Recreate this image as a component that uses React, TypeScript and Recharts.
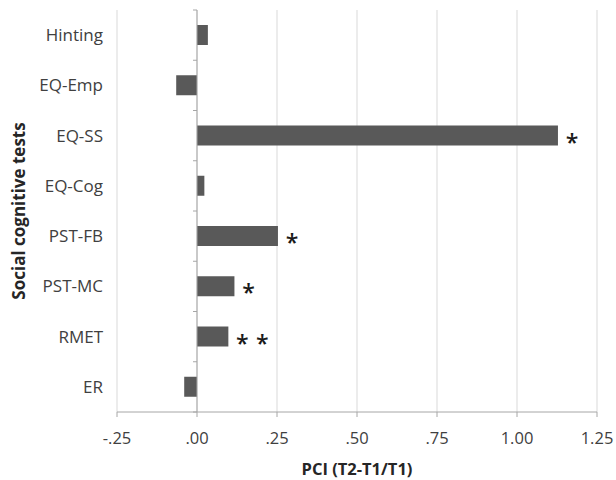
import { BarChart, Bar, XAxis, YAxis, CartesianGrid, ReferenceLine, LabelList, Label } from 'recharts'

const categories = ['Hinting', 'EQ-Emp', 'EQ-SS', 'EQ-Cog', 'PST-FB', 'PST-MC', 'RMET', 'ER']
const pciValues = [0.034, -0.065, 1.128, 0.023, 0.253, 0.117, 0.098, -0.04]
const significance = ['', '', '*', '', '*', '*', '**', '']
const xTicks = [-0.25, 0, 0.25, 0.5, 0.75, 1, 1.25]
const xTickLabels = ['-.25', '.00', '.25', '.50', '.75', '1.00', '1.25']

const FONT = '"Open Sans", sans-serif'
const BAR_COLOR = '#595959'
const GRID_COLOR = '#d9d9d9'
const AXIS_COLOR = '#a6a6a6'
const TEXT_COLOR = '#404040'
const TITLE_COLOR = '#262626'

const chartData = categories.map((name, i) => ({
  name,
  value: pciValues[i],
  sig: significance[i],
}))

// vertical axis line drawn at x = 0, with small ticks between categories
const ZeroAxis = (props: any) => {
  const { x1, y1, y2 } = props
  const top = Math.min(y1, y2)
  const bottom = Math.max(y1, y2)
  const step = (bottom - top) / categories.length
  return (
    <g>
      <line x1={x1} y1={top} x2={x1} y2={bottom} stroke={AXIS_COLOR} strokeWidth={1} />
      {Array.from({ length: categories.length + 1 }, (_, i) => (
        <line
          key={i}
          x1={x1 - 4}
          x2={x1}
          y1={top + i * step}
          y2={top + i * step}
          stroke={AXIS_COLOR}
          strokeWidth={1}
        />
      ))}
    </g>
  )
}

const Stars = (props: any) => {
  const { x, y, width, height, value } = props
  if (!value) return null
  const end = x + width
  const cy = y + height / 2
  return (
    <g>
      {value.split('').map((s: string, i: number) => (
        <text
          key={i}
          x={end + 14 + i * 20}
          y={cy + 15}
          textAnchor="middle"
          fontSize={23}
          fontWeight={600}
          fontFamily={FONT}
          fill="#1a1a1a"
        >
          {s}
        </text>
      ))}
    </g>
  )
}

const YTitle = ({ viewBox }: any) => {
  const cx = viewBox.x + 18
  const cy = viewBox.y + viewBox.height / 2
  return (
    <text
      x={cx}
      y={cy}
      transform={`rotate(-90 ${cx} ${cy})`}
      textAnchor="middle"
      dominantBaseline="central"
      fontSize={17}
      fontWeight={700}
      fontFamily={FONT}
      fill={TITLE_COLOR}
    >
      Social cognitive tests
    </text>
  )
}

const XTitle = ({ viewBox }: any) => {
  const cx = viewBox.x + viewBox.width / 2
  const cy = viewBox.y + 56
  return (
    <text
      x={cx}
      y={cy}
      textAnchor="middle"
      dominantBaseline="central"
      fontSize={16.5}
      fontWeight={700}
      fontFamily={FONT}
      fill={TITLE_COLOR}
    >
      PCI (T2-T1/T1)
    </text>
  )
}

export default function App() {
  return (
    <div style={{ position: 'absolute', left: 0, top: 0, background: '#fff' }}>
      <BarChart
        width={616}
        height={480}
        data={chartData}
        layout="vertical"
        margin={{ top: 10, right: 19, left: 0, bottom: 0 }}
      >
        <CartesianGrid horizontal={false} stroke={GRID_COLOR} />
        <XAxis
          type="number"
          domain={[-0.25, 1.25]}
          ticks={xTicks}
          allowDataOverflow
          tickFormatter={(v: number) => xTickLabels[xTicks.indexOf(v)]}
          axisLine={{ stroke: AXIS_COLOR }}
          tickLine={{ stroke: AXIS_COLOR }}
          tickSize={5}
          tickMargin={15}
          height={68}
          tick={{ fill: TEXT_COLOR, fontSize: 16.5, fontFamily: FONT }}
        >
          <Label content={<XTitle />} />
        </XAxis>
        <YAxis
          type="category"
          dataKey="name"
          width={117}
          axisLine={false}
          tickLine={false}
          tickSize={0}
          tickMargin={14}
          tick={{ fill: TEXT_COLOR, fontSize: 17, fontFamily: FONT }}
        >
          <Label content={<YTitle />} />
        </YAxis>
        <Bar dataKey="value" fill={BAR_COLOR} barSize={20} isAnimationActive={false}>
          <LabelList dataKey="sig" content={<Stars />} />
        </Bar>
        <ReferenceLine x={0} shape={<ZeroAxis />} />
      </BarChart>
    </div>
  )
}
